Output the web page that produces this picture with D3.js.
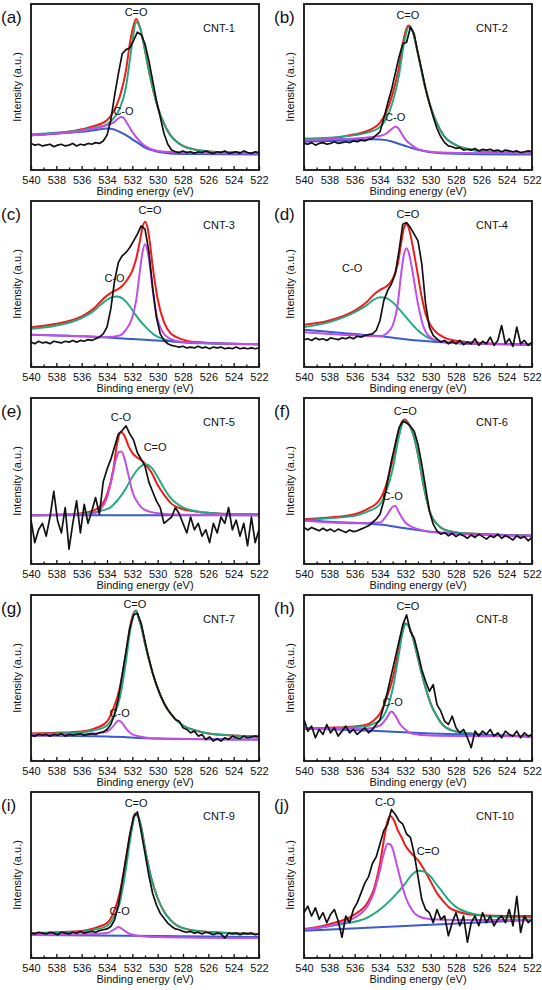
<!DOCTYPE html>
<html><head><meta charset="utf-8">
<script src="https://cdn.jsdelivr.net/npm/d3@7"></script>
<style>
body{margin:0;background:#fff}
svg{display:block}
text{font-family:"Liberation Sans",Arial,sans-serif;fill:#111}
</style>
</head><body>
<svg id="chart" width="542" height="990"></svg>
<script>
const panelLetters = ["(a)","(b)","(c)","(d)","(e)","(f)","(g)","(h)","(i)","(j)"];
const sampleNames = ["CNT-1","CNT-2","CNT-3","CNT-4","CNT-5","CNT-6","CNT-7","CNT-8","CNT-9","CNT-10"];
const majorTicks = [540,538,536,534,532,530,528,526,524,522];
const minorTicks = [539,537,535,533,531,529,527,525,523];
const xTitle = "Binding energy (eV)";
const yTitle = "Intensity (a.u.)";

// binding energies of the measured spectrum points (eV)
const energyGrid = [540.0,539.7,539.4,539.1,538.8,538.5,538.2,537.9,537.6,537.3,537.0,536.7,536.4,536.1,535.8,535.5,535.2,534.9,534.6,534.3,534.0,533.7,533.4,533.1,532.8,532.5,532.2,531.9,531.6,531.3,531.0,530.7,530.4,530.1,529.8,529.5,529.2,528.9,528.6,528.3,528.0,527.7,527.4,527.1,526.8,526.5,526.2,525.9,525.6,525.3,525.0,524.7,524.4,524.1,523.8,523.5,523.2,522.9,522.6,522.3,522.0];

// measured intensity (a.u.) per panel, on energyGrid
const measured = [
 [16,15,15.5,14.5,15,15.5,14,15,15.5,14.5,15,16,14.5,15.5,15,16,15.5,16.5,16,17.5, 21,30,45,58,70,72.5,73.5,78,83,81.5,76,66,54,42,32,22,15.5,12,11,10.5, 11.5,10.5,11,10,11,10.5,11.5,10.5,10,11,10.5,11.5,10,10.5,11,10,11.5,10.5,10,11,10.5],
 [16,15.5,16.5,15,16,16.5,15.5,16,17,16,16.5,17,16.5,17.5,17,18,17.5,18.5,19,21, 23,31,40,48,58,68,76,77,86,82,70,60,49,40,32,25,20,16.5,14.5,14, 13,13.5,12,12.5,12,13,11.5,12.5,12,12.5,11.5,12,11,12,11.5,11,11.5,10.5,11,11.5,11],
 [15,14,15.5,14.5,15,14,15.5,15,14.5,15.5,15,16,15,16,15.5,16.5,16,17,18,20, 24,35,52,63,67,69,72,76,80,85,83,70,48,30,20,16,14,13,12.5,12, 12.5,11.5,12,11.5,12.5,11.5,12,11,12,11.5,12,11,11.5,11,12,11,11.5,11,11.5,11,11.5],
 [16.5,17,16,17.5,16.5,17,16,17.5,17,16.5,17.5,17,18,17,18.5,18,19,19.5,20,22, 28,40,46,50,56,70,86,87,84,80,76,62,38,24,19,17,15,16,14,15.5, 14,16,13.5,15,14,17,13,15.5,14,18,13,16,25,14,17,12.5,24,14,16,13,15],
 [26.4,12.9,20.6,24.5,16.8,28.3,43.7,26,18.7,34,9,24.5,38,18.7,36,24.5,32,40,30,49.5, 57,63,70.7,78.4,80.4,83.2,78.4,74.6,67,63,59,49.5,43.7,38,34,24.5,26.4,28.3,34,30.3, 24.5,18.7,28.3,20.6,24.5,16.8,20.6,12.9,24.5,18.7,28.3,24.5,34,20.6,26.4,16.8,24.5,11,28.3,12.9,20.6],
 [22,20.5,22,21,20,21.5,20,21,19.5,21,20,19,20.5,19.5,20,21,22,23,25,27, 30,38,50,62,72,82,86,85,83,80,72,60,46,32,24,20,18,19,17,18.5, 16.5,18,17,15.5,17.5,16,18,16.5,15,17,16,18,15.5,17,16,14.5,17,15.5,16.5,14,16],
 [15.5,15,16,15.5,16,15,16,15.5,16.5,15,16,15.5,16,16.5,15.5,16,16.5,16,17,17.5, 19,22,28,38,52,66,80,88,89,83,72,62,53,46,40,35,31,28,25,24, 20,19,17,18,15,16,13,14.5,12,13.5,12,14,13,15,14,13.5,15,14,14.5,15,14.5],
 [25,18,21,14,19,16,22,17,20,15,18,21,17,19,16,18,20,17,19,22, 25,33,42,52,62,72,82,88,78,74,65,55,48,42,46,34,30,24,22,27, 20,17,19,14,8,18,15,18,16,19,15,17,14,18,16,15,18,14,17,15,16],
 [15,14.5,15.5,15,14.5,15.5,15,14,15.5,15,14.5,15.5,15,16,15,15.5,16,15.5,16.5,17, 17.5,19,23,32,46,60,74,85,88,76,63,50,39,32,27,24,21,19,17.5,17, 16,15.5,16,15,15.5,14.5,15.5,15,14,15,14.5,12,15,14.5,15,14,15,14.5,15,14,14.5],
 [27.3,31.2,25.3,30.2,23.3,27.3,21.3,26.3,29.2,22.3,12.5,25.3,21.3,29.2,33.2,39.1,45.1,49,56.9,60.9, 68.8,76.7,80.6,89.5,86.6,82.6,80.6,74.7,72.7,62.8,49,35.2,29.2,27.3,21.3,29.2,23.3,25.3,13.4,21.3, 27.3,19.4,25.3,9.5,21.3,25.3,19.4,27.3,21.3,25.3,19.4,23.3,25.3,21.3,29.2,19.4,37.2,15.4,25.3,21.3,23.3]
];

// fitted envelope (red), [energy, intensity]
const envelopeFit = [
 [[540,21],[538,22],[536,24.5],[535,26.5],[534,30],[533.5,35],[533,44],[532.5,60],[532.2,76],[532,84],[531.7,91],[531.4,86],[531.1,76],[530.8,64],[530.5,53],[530,38],[529.5,28],[529,21],[528.5,17],[528,14.5],[527,12.2],[526,11.2],[524,10.5],[522,10]],
 [[540,18.5],[538,19],[536,21.5],[535,23.5],[534,28.5],[533.5,35],[533,46],[532.5,62],[532.2,76],[532,83],[531.75,87],[531.5,85],[531.2,77],[531,70],[530.5,52],[530,38],[529.5,28],[529,21],[528,15],[527,12.5],[526,11.3],[524,10.5],[522,10]],
 [[540,24],[538,26],[536,30.5],[535,35.5],[534.5,39.5],[534,43],[533.5,45.5],[533,47.5],[532.5,51.5],[532,58],[531.7,65],[531.4,76],[531.2,84],[531,87.5],[530.8,84],[530.6,74],[530.4,61],[530.2,50],[530,41],[529.5,27],[529,20.5],[528,16.5],[527,15],[525,14.2],[522,13.8]],
 [[540,25.5],[538,28],[536,34],[535,39.5],[534.5,43.5],[534,46.5],[533.5,48.5],[533,53],[532.6,62],[532.3,76],[532.1,84],[531.9,86],[531.7,83],[531.4,72],[531,55],[530.7,42],[530.4,32],[530,25],[529.5,20.5],[529,18],[528,15.8],[526,14.5],[522,13.5]],
 [[540,29.3],[537,29.9],[535.5,31.2],[534.5,35],[534,41.8],[533.5,57],[533.2,72.6],[532.9,79.4],[532.6,77],[532.3,71],[532,66.9],[531.6,64],[531.2,62],[530.8,58.5],[530.5,55.3],[530,47.6],[529.5,41.8],[529,37],[528,33],[527,31.6],[525,30.3],[522,29.9]],
 [[540,27],[538,28],[536,30],[535,33],[534,39],[533.5,48],[533,63],[532.5,81],[532.1,87],[531.7,84],[531.3,76],[531,66],[530.5,45],[530,30],[529.5,24],[529,21],[528,19],[526,18],[522,17]],
 [[540,16.6],[538,17],[536,17.8],[535,19.5],[534,23.8],[533.5,31.6],[533,43.7],[532.5,64.8],[532.2,80],[531.9,89],[531.7,90.7],[531.5,86],[531.2,78],[531,70.8],[530.5,55.7],[530,43.7],[529.5,34.6],[529,28.6],[528,21.4],[527,18.4],[526,16.6],[524,15.4],[522,14.8]],
 [[540,19.6],[538,20],[536,20.8],[535,22],[534.5,24.4],[534,28.6],[533.5,37.6],[533,49.7],[532.5,67.8],[532.2,79],[532,82.8],[531.8,82],[531.5,76.8],[531,61.7],[530.5,46.7],[530,34.6],[529.5,26.8],[529,21.4],[528,17.8],[526,16],[522,14.8]],
 [[540,15],[538,15.5],[536,16.3],[535,18],[534,21],[533.5,27],[533,39],[532.5,60],[532.2,74],[532,81],[531.8,87],[531.6,86],[531.3,79],[531,66],[530.5,48],[530,36],[529.5,28],[529,23],[528,18],[526,15.7],[522,14.5]],
 [[540,17.4],[538,20.4],[536,26.3],[535,33.2],[534.5,41.1],[534,56.9],[533.7,70.8],[533.4,82.6],[533.2,85.6],[532.9,83],[532.6,77],[532.3,72.7],[532,67.8],[531.5,62.8],[531,58.9],[530.5,53],[530,46],[529.5,39.1],[529,34.2],[528.5,30.2],[528,28.3],[527,26.3],[526,25.7],[524,25.3],[522,25.3]]
];

// green component
const greenComponent = [
 [[540,21.5],[538,22.5],[536,24],[535,25.5],[534,27.5],[533.5,31],[533,37],[532.5,50],[532.2,66],[532,77],[531.7,89],[531.4,86],[531.1,76],[530.8,64],[530.5,53],[530,38],[529.5,28],[529,21],[528.5,17],[528,14.5],[527,12.2],[526,11.2],[524,10.5],[522,10]],
 [[540,19],[538,19.5],[536,21],[535,22.5],[534,26],[533.5,31],[533,41],[532.5,57],[532.2,72],[532,80],[531.75,86],[531.5,85],[531.2,77],[531,70],[530.5,52],[530,38],[529.5,28],[529,21],[528,15],[527,12.5],[526,11.3],[524,10.5],[522,10]],
 [[540,23],[538,25],[536,29.5],[535,34],[534.5,37.5],[534,40.5],[533.5,42.3],[533.2,42.5],[532.8,41.5],[532.3,37.5],[531.8,32],[531.3,27],[530.8,23],[530.3,19.5],[529.8,17.5],[529,15.8],[528,14.8],[526,14.2],[522,13.7]],
 [[540,24],[538,27],[536,33],[535,37.5],[534.5,40.5],[534,42],[533.5,41.5],[533,39],[532.5,35],[532,30.5],[531.5,26],[531,22],[530.5,19],[530,17],[529,15],[527,14],[522,13.5]],
 [[540,29.3],[536,30.3],[534,33],[533,40],[532.5,45.7],[532,52.4],[531.5,57.6],[531,60.1],[530.5,58.2],[530,52.4],[529.5,45.7],[529,40],[528,34.1],[527,31.8],[525,30.3],[522,29.9]],
 [[540,26.5],[538,27.5],[536,29],[535,31.5],[534,36],[533.5,44],[533,57],[532.5,77],[532.1,86],[531.7,84],[531.3,76],[531,66],[530.5,45],[530,30],[529.5,24],[529,21],[528,19],[526,18],[522,17]],
 [[540,16.2],[538,16.6],[536,17.2],[535,18.5],[534,21.4],[533.5,27],[533,37.6],[532.5,60],[532.2,77],[531.9,88],[531.7,90.5],[531.5,86],[531.2,78],[531,70.8],[530.5,55.7],[530,43.7],[529.5,34.6],[529,28.6],[528,21.4],[527,18.4],[526,16.6],[524,15.4],[522,14.8]],
 [[540,19.4],[538,19.8],[536,20.3],[535,21],[534.5,22.5],[534,24.4],[533.5,30.4],[533,43.4],[532.5,64.8],[532.2,78],[532,82.5],[531.8,82],[531.5,76.8],[531,61.7],[530.5,46.7],[530,34.6],[529.5,26.8],[529,21.4],[528,17.8],[526,16],[522,14.8]],
 [[540,14.8],[538,15.2],[536,15.8],[535,17],[534,19.3],[533.5,24],[533,33],[532.5,54],[532.2,70],[532,79],[531.8,86],[531.6,86],[531.3,79],[531,66],[530.5,48],[530,36],[529.5,28],[529,23],[528,18],[526,15.7],[522,14.5]],
 [[540,17],[537,20.4],[535,24.3],[534,29.2],[533,36.2],[532,45],[531.5,50],[531,52.6],[530.5,52],[530,49],[529.5,44],[529,39.1],[528.5,34.2],[528,30.8],[527,27.3],[526,25.7],[524,24.5],[522,24.3]]
];

// violet (magenta) component
const violetComponent = [
 [[540,21],[538,22],[536,23.5],[535,25],[534,27],[533.5,28.5],[533.2,30.5],[532.9,32],[532.7,31.5],[532.4,28],[532,23],[531.5,18],[531,14.5],[530.5,12.5],[530,11.5],[529,10.8],[527,10.3],[522,10]],
 [[540,18],[538,18.5],[536,19],[534.5,20],[534,20.5],[533.5,22],[533.1,24.5],[532.8,26],[532.6,25.5],[532.3,22],[532,18.5],[531.5,15],[531,12.5],[530,11],[528,10.3],[522,10]],
 [[540,19.5],[537,18.8],[534,18],[533,19],[532.5,22.5],[532,30],[531.7,40],[531.4,58],[531.2,69],[531,74],[530.8,70],[530.6,60],[530.4,47],[530.2,36],[530,28.5],[529.6,21],[529,17],[528,15],[526,14.3],[522,13.8]],
 [[540,21],[537,19.5],[534,18.5],[533.5,20],[533,25],[532.6,38],[532.3,58],[532.1,68],[531.9,71.5],[531.7,68],[531.4,56],[531,38],[530.6,25],[530.2,19],[529.5,16],[528,14.5],[522,13.5]],
 [[540,29.3],[537,29.6],[535,30.6],[534.5,33],[534,40],[533.6,52],[533.3,63],[533.05,67.5],[532.85,67.8],[532.6,63],[532.3,53.4],[532,43.7],[531.5,36],[531,32.6],[530,30.6],[528,29.7],[522,29.3]],
 [[540,26],[538,25],[536,24.5],[534,25],[533.5,29],[533,34.5],[532.8,35],[532.5,31],[532,25],[531,21],[529,18.5],[522,17]],
 [[540,15.4],[536,16],[535,16.6],[534,17.8],[533.5,21],[533.1,24.4],[532.8,23],[532.5,19.6],[532,16],[531,14.2],[530,13.6],[522,13]],
 [[540,19.6],[537,19.3],[535,19.6],[534,21.4],[533.5,25.6],[533.1,29.8],[532.8,27.5],[532.4,22],[532,19],[531.5,16.6],[530,15.4],[522,14.8]],
 [[540,13.9],[535,14.5],[534,15],[533.5,16.9],[533.1,18.7],[532.7,17],[532.2,14.5],[531,13],[530,12.7],[522,12]],
 [[540,17],[538,19.4],[536,24.3],[535,31.2],[534.5,39.1],[534,53],[533.7,62.8],[533.4,68.8],[533.2,68.5],[533,65.8],[532.7,56.9],[532.3,45],[532,37.2],[531.5,29.2],[531,25.3],[530,23.3],[528,22.9],[522,22.9]]
];

// background (blue)
const backgroundFit = [
 [[540,21],[538,22],[536,23],[535,24],[534,25],[533.5,24.5],[533,23],[532.5,21],[532,18.5],[531.5,16],[531,13.5],[530.5,12],[530,11],[529,10],[527,9.6],[522,9.3]],
 [[540,17],[538,17.5],[536,18],[534.5,18.5],[533.5,18],[533,17],[532,14.5],[531,12.2],[530,10.7],[528,9.8],[522,9.3]],
 [[540,19.5],[536,18.5],[532,16.8],[528,15],[522,13.6]],
 [[540,22.5],[537,20.5],[534,18.5],[531,16],[528,14.5],[522,13.5]],
 [[540,29.3],[522,29.3]],
 [[540,26.5],[538,25.5],[536,24.8],[534,23.8],[532,21.5],[530,19.5],[528,18.3],[526,17.7],[522,17]],
 [[540,15.4],[534,14.8],[530,13.6],[522,13]],
 [[540,19.6],[535,18.3],[530,16.6],[522,14.8]],
 [[540,13.9],[530,13.3],[522,12.7]],
 [[540,16.4],[522,22.9]]
];

// peak annotations: [panel, text, energy, intensity]
const peakLabels = [
 [0,"C=O",531.7,93],[0,"C-O",532.7,33],
 [1,"C=O",531.8,91],[1,"C-O",532.8,29.7],
 [2,"C=O",530.6,92],[2,"C-O",533.4,51.5],
 [3,"C=O",531.8,89.5],[3,"C-O",536.2,57.5],
 [4,"C-O",532.9,86],[4,"C=O",530.2,67.8],
 [5,"C=O",532,89.8],[5,"C-O",533,38.6],
 [6,"C=O",531.8,92],[6,"C-O",533,26.8],
 [7,"C=O",531.8,90.7],[7,"C-O",533,33.4],
 [8,"C=O",531.7,91],[8,"C-O",533,25.9],
 [9,"C-O",533.6,91.5],[9,"C=O",530.2,61.9]
];

const colors = {data:"#111111", env:"#f01c1c", green:"#1fa97c", violet:"#c24ee8", bg:"#3a5ad0"};
const W = 228, H = 166;
const colLeft = [31, 304];
const rowPitch = 197, topOffset = 4;

const svg = d3.select("#chart");
const x = d3.scaleLinear().domain([540, 522]).range([0, W]);
const y = d3.scaleLinear().domain([0, 100]).range([H, 0]);
const smooth = d3.line().x(d => x(d[0])).y(d => y(d[1])).curve(d3.curveMonotoneX);
const raw = d3.line().x(d => x(d[0])).y(d => y(d[1]));

sampleNames.forEach((name, p) => {
  const col = p % 2, row = Math.floor(p / 2);
  const left = colLeft[col], top = topOffset + rowPitch * row;
  const g = svg.append("g").attr("transform", `translate(${left},${top})`);
  g.append("clipPath").attr("id", "clip" + p).append("rect").attr("width", W).attr("height", H);
  const plot = g.append("g").attr("clip-path", `url(#clip${p})`);

  const addFit = (pts, c, w) => plot.append("path").datum(pts).attr("d", smooth)
      .attr("fill", "none").attr("stroke", c).attr("stroke-width", w).attr("stroke-linejoin", "round");
  addFit(envelopeFit[p], colors.env, 2);
  addFit(greenComponent[p], colors.green, 1.9);
  addFit(backgroundFit[p], colors.bg, 2);
  addFit(violetComponent[p], colors.violet, 2);

  const pts = energyGrid.map((e, i) => [e, measured[p][i]]);
  plot.append("path").datum(pts).attr("d", raw).attr("fill", "none")
      .attr("stroke", colors.data).attr("stroke-width", 1.7).attr("stroke-linejoin", "round");

  // ticks (inward) on bottom
  const axMinor = g.append("g").attr("transform", `translate(0,${H})`)
      .call(d3.axisBottom(x).tickValues(minorTicks).tickSizeInner(-2.5).tickSizeOuter(0).tickFormat(""));
  axMinor.select(".domain").remove();
  const axMajor = g.append("g").attr("transform", `translate(0,${H})`)
      .call(d3.axisBottom(x).tickValues(majorTicks).tickSizeInner(-4).tickSizeOuter(0).tickPadding(6).tickFormat(d3.format("d")));
  axMajor.select(".domain").remove();
  g.selectAll(".tick line").attr("stroke", "#111").attr("stroke-width", 1.3);
  axMajor.selectAll("text").attr("font-size", 11).attr("font-family", '"Liberation Sans",Arial,sans-serif').attr("fill", "#111");

  g.append("rect").attr("width", W).attr("height", H).attr("fill", "none")
      .attr("stroke", "#111").attr("stroke-width", 1.8);

  g.append("text").attr("x", W / 2).attr("y", H + 25).attr("text-anchor", "middle")
      .attr("font-size", 11).text(xTitle);
  g.append("text").attr("transform", `translate(-10,${H / 2}) rotate(-90)`)
      .attr("text-anchor", "middle").attr("font-size", 11).text(yTitle);
  g.append("text").attr("x", -30).attr("y", 19).attr("font-size", 17).text(panelLetters[p]);
  g.append("text").attr("x", 172).attr("y", 28).attr("font-size", 11).text(name);

  peakLabels.filter(d => d[0] === p).forEach(d => {
    g.append("text").attr("x", x(d[2])).attr("y", y(d[3])).attr("text-anchor", "middle")
      .attr("font-size", 11).text(d[1]);
  });
});
</script>
</body></html>
